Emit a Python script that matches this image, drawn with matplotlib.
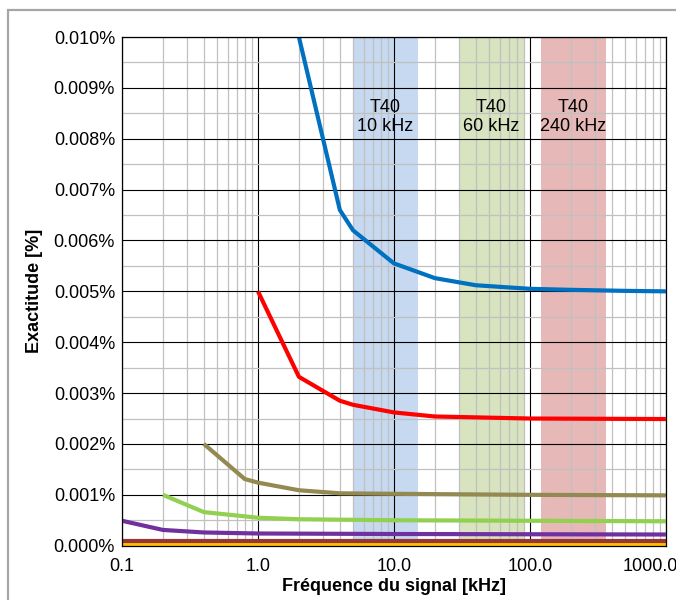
import matplotlib
matplotlib.use('Agg')
import matplotlib.pyplot as plt
from matplotlib.patches import Rectangle
from matplotlib.ticker import FixedLocator, FuncFormatter, NullFormatter

plt.rcParams['font.family'] = ['Liberation Sans', 'DejaVu Sans']

# accuracy curves, frequency in kHz, accuracy in %
blue_f = [2, 4, 5, 10, 20, 40, 100, 200, 500, 1000]
blue_y = [0.0100, 0.0066, 0.0062, 0.00555, 0.00526, 0.00512, 0.00505, 0.00503, 0.00501, 0.0050]
red_f = [1, 2, 4, 5, 10, 20, 100, 1000]
red_y = [0.0050, 0.00332, 0.00285, 0.00277, 0.00262, 0.00254, 0.00250, 0.00249]
olive_f = [0.4, 0.8, 1, 2, 4, 10, 100, 1000]
olive_y = [0.0020, 0.00131, 0.00124, 0.00109, 0.00103, 0.00102, 0.00100, 0.00099]
green_f = [0.2, 0.4, 1, 2, 10, 100, 1000]
green_y = [0.0010, 0.00066, 0.00055, 0.00052, 0.00050, 0.00049, 0.00048]
purple_f = [0.1, 0.2, 0.4, 1, 10, 1000]
purple_y = [0.00049, 0.00031, 0.00026, 0.00024, 0.00023, 0.00022]
darkred_f = [0.1, 1000]
darkred_y = [0.00009, 0.00009]
orange_f = [0.1, 1000]
orange_y = [0.00002, 0.00002]

# T40 bandwidth zones
band_lo = [5, 30, 120]
band_hi = [15, 90, 360]
band_center = [8.66, 52, 208]
band_text = ['T40\n10 kHz', 'T40\n60 kHz', 'T40\n240 kHz']
band_colors = ['#c6d9f0', '#d8e3bf', '#e6b8b7']

xticks = [0.1, 1, 10, 100, 1000]
xticklabels = ['0.1', '1.0', '10.0', '100.0', '1000.0']

fig = plt.figure(figsize=(6.76, 6.0), dpi=100)
ax = fig.add_axes([0.1805, 0.0905, 0.8045, 0.8478])

fig.patches.append(Rectangle((8 / 676, -0.1), 1.2, 1 - 10 / 600 + 0.1,
                             transform=fig.transFigure, fill=False,
                             edgecolor='#a6a6a6', linewidth=1.6))

for lo, hi, c in zip(band_lo, band_hi, band_colors):
    ax.axvspan(lo, hi, color=c, zorder=0.2, linewidth=0)
for xc, t in zip(band_center, band_text):
    ax.text(xc, 0.00843, t, ha='center', va='center', fontsize=13,
            linespacing=1.15, zorder=3)

lw = 3
ax.plot(orange_f, orange_y, color='#ffc000', lw=lw, solid_capstyle='butt')
ax.plot(darkred_f, darkred_y, color='#953735', lw=lw, solid_capstyle='butt')
ax.plot(purple_f, purple_y, color='#7030a0', lw=lw, solid_capstyle='butt')
ax.plot(green_f, green_y, color='#92d050', lw=lw, solid_capstyle='butt')
ax.plot(olive_f, olive_y, color='#938953', lw=lw, solid_capstyle='butt')
ax.plot(red_f, red_y, color='#ff0000', lw=lw, solid_capstyle='butt')
ax.plot(blue_f, blue_y, color='#0070c0', lw=lw, solid_capstyle='butt')

ax.set_xscale('log')
ax.set_xlim(0.1, 1000)
ax.set_ylim(0, 0.010)
ax.xaxis.set_major_locator(FixedLocator(xticks))
# last label is pushed left so it ends at the chart edge, as in the source
ax.set_xticklabels(xticklabels[:-1] + [''])
ax.annotate(xticklabels[-1], xy=(xticks[-1], 0), xycoords=('data', 'axes fraction'),
            xytext=(12, -12), textcoords='offset pixels', ha='right', va='top',
            fontsize=13, annotation_clip=False)
ax.xaxis.set_minor_formatter(NullFormatter())
ax.yaxis.set_major_locator(FixedLocator([i * 0.001 for i in range(11)]))
ax.yaxis.set_minor_locator(FixedLocator([i * 0.001 + 0.0005 for i in range(10)]))
ax.yaxis.set_major_formatter(FuncFormatter(lambda v, p: f'{v:.3f}%'))

ax.grid(which='minor', color='#c0c0c0', linewidth=0.9)
ax.grid(which='major', color='black', linewidth=0.8)
ax.tick_params(which='both', length=0, labelsize=13)
ax.tick_params(axis='x', pad=9)
ax.tick_params(axis='y', pad=5)
for s in ax.spines.values():
    s.set_color('black')
    s.set_linewidth(0.9)

ax.set_xlabel('Fréquence du signal [kHz]', fontsize=13, fontweight='bold', labelpad=2)
ax.set_ylabel('Exactitude [%]', fontsize=13, fontweight='bold', labelpad=8)

fig.savefig('out.png', dpi=100)
